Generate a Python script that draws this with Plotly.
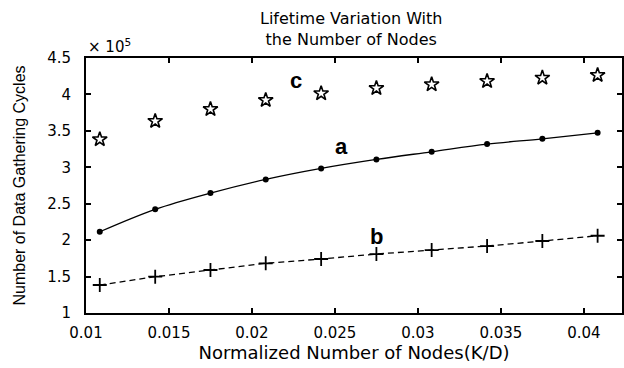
import plotly.graph_objects as go

# Normalized number of nodes (K/D)
x_nodes = [0.01083, 0.01417, 0.0175, 0.02083, 0.02417, 0.0275, 0.03083, 0.03417, 0.0375, 0.04083]

# Number of data gathering cycles, in units of 1e5
cycles_a = [2.115, 2.423, 2.646, 2.834, 2.985, 3.108, 3.213, 3.318, 3.391, 3.473]
cycles_b = [1.384, 1.498, 1.590, 1.682, 1.741, 1.809, 1.864, 1.919, 1.988, 2.060]
cycles_c = [3.383, 3.634, 3.798, 3.922, 4.014, 4.086, 4.137, 4.182, 4.228, 4.265]

x_ticks = [0.01, 0.015, 0.02, 0.025, 0.03, 0.035, 0.04]
x_tick_text = ["0.01", "0.015", "0.02", "0.025", "0.03", "0.035", "0.04"]
y_ticks = [1, 1.5, 2, 2.5, 3, 3.5, 4, 4.5]
y_tick_text = ["1", "1.5", "2", "2.5", "3", "3.5", "4", "4.5"]

curve_labels = ["a", "b", "c"]
label_x = [0.02541, 0.02753, 0.02267]
label_y = [3.29, 2.047, 4.196]

TICK_FONT = dict(family="DejaVu Sans", size=15, color="black")

fig = go.Figure()

fig.add_trace(go.Scatter(
    x=x_nodes, y=cycles_a, mode="lines+markers",
    line=dict(color="black", width=1.3, shape="spline"),
    marker=dict(symbol="circle", size=6, color="black"),
    showlegend=False,
))
fig.add_trace(go.Scatter(
    x=x_nodes, y=cycles_b, mode="lines+markers",
    line=dict(color="black", width=1.3, dash="6px,4px"),
    marker=dict(symbol="cross-thin", size=10, line=dict(color="black", width=1.8)),
    showlegend=False,
))
fig.add_trace(go.Scatter(
    x=x_nodes, y=cycles_c, mode="markers",
    marker=dict(symbol="star-open", size=11, color="black", line=dict(width=1.6)),
    showlegend=False,
))

for txt, lx, ly in zip(curve_labels, label_x, label_y):
    fig.add_annotation(x=lx, y=ly, text=f"<b>{txt}</b>", showarrow=False,
                       font=dict(family="Liberation Sans", size=22, color="black"))

# exponent multiplier above the y axis
fig.add_annotation(xref="paper", yref="paper", x=0.0, y=1.0, xanchor="left", yanchor="bottom",
                   yshift=0, text="× 10<sup>5</sup>", showarrow=False,
                   font=dict(family="DejaVu Sans", size=15, color="black"))

# two-line title
fig.add_annotation(xref="paper", yref="paper", x=0.494, y=1.114, xanchor="center", yanchor="middle",
                   text="Lifetime Variation With<br>the Number of Nodes", showarrow=False,
                   font=dict(family="DejaVu Sans", size=16, color="black"))

fig.update_layout(
    width=624, height=368,
    margin=dict(l=86, r=0, t=58, b=55),
    paper_bgcolor="white", plot_bgcolor="white",
    xaxis=dict(
        range=[0.01, 0.0423], tickvals=x_ticks, ticktext=x_tick_text,
        ticks="inside", ticklen=5, tickwidth=1.5, tickcolor="black",
        showline=True, linecolor="black", linewidth=2, mirror="ticks",
        showgrid=False, zeroline=False, tickfont=TICK_FONT, ticklabelstandoff=5,
        title=dict(text="Normalized Number of Nodes(K/D)", standoff=4,
                   font=dict(family="DejaVu Sans", size=18, color="black")),
    ),
    yaxis=dict(
        range=[1, 4.5], tickvals=y_ticks, ticktext=y_tick_text,
        ticks="inside", ticklen=5, tickwidth=1.5, tickcolor="black",
        showline=True, linecolor="black", linewidth=2, mirror="ticks",
        showgrid=False, zeroline=False, tickfont=TICK_FONT, ticklabelstandoff=10,
        title=dict(text="Number of Data Gathering Cycles", standoff=18,
                   font=dict(family="Liberation Sans", size=16, color="black")),
    ),
)

fig.write_html("out.html")
